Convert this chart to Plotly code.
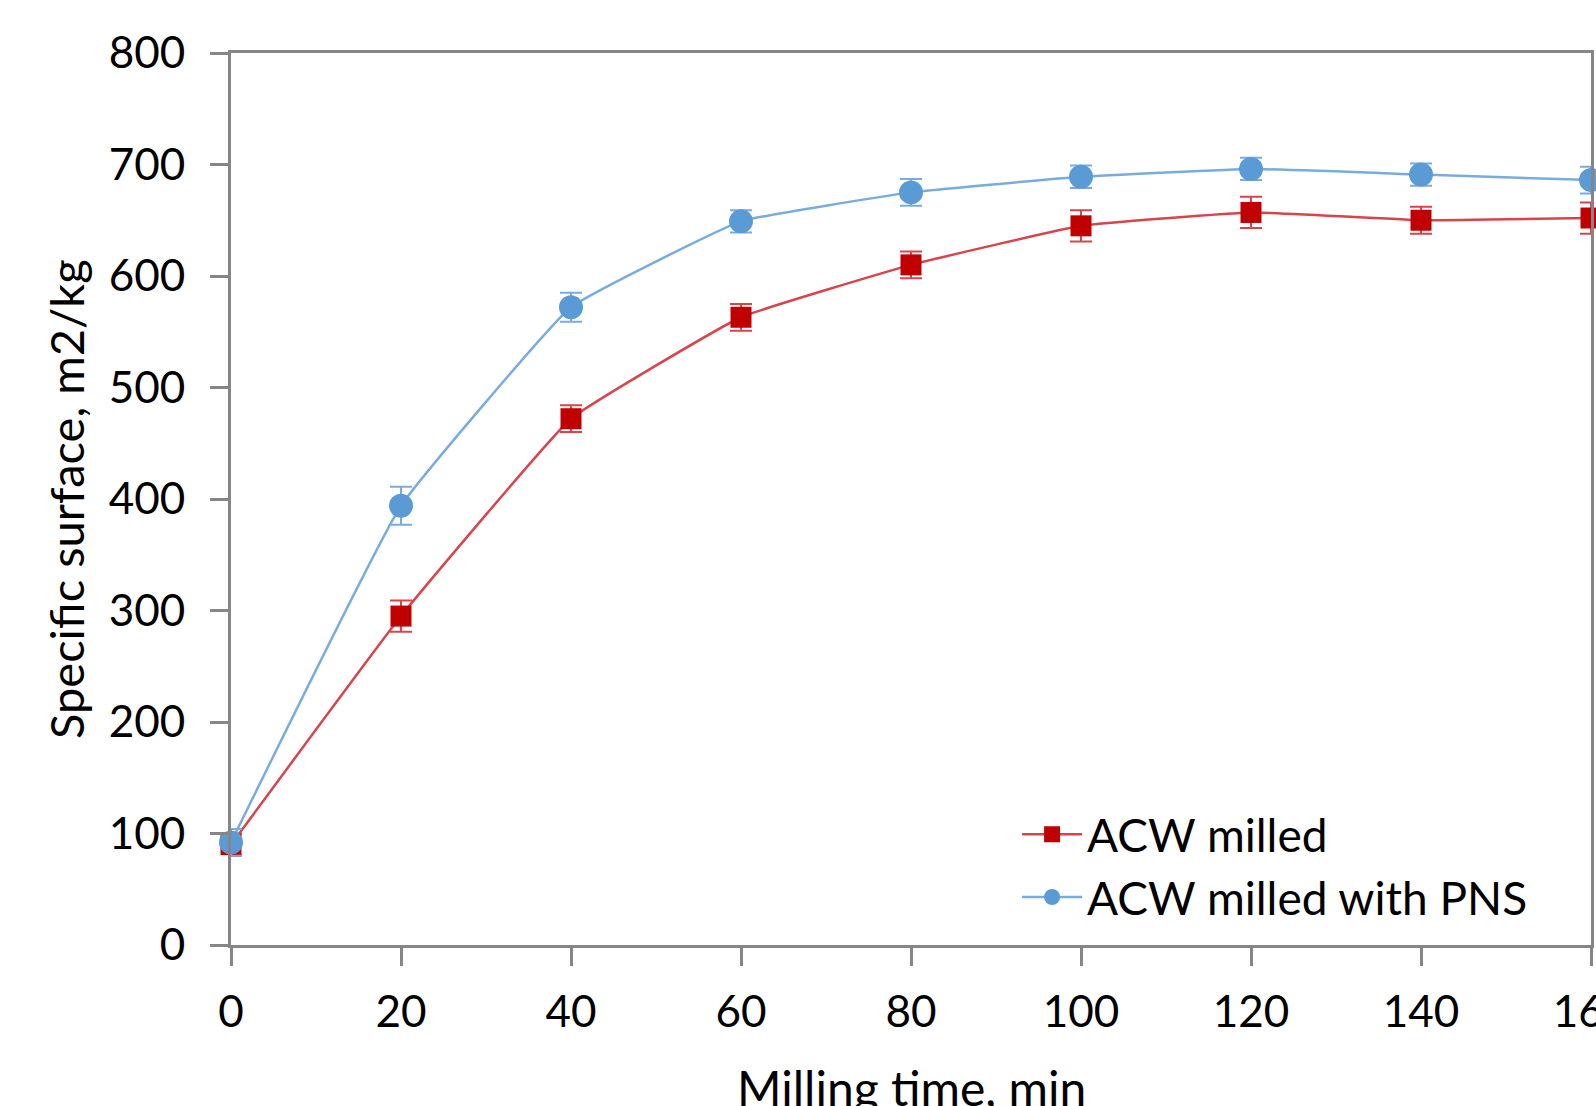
import plotly.graph_objects as go

milling_time = [0, 20, 40, 60, 80, 100, 120, 140, 160]
acw_milled = [90, 295, 472, 563, 610, 645, 657, 650, 652]
acw_milled_err = [10, 14, 12, 12, 12, 14, 14, 12, 14]
acw_pns = [92, 394, 572, 649, 675, 689, 696, 691, 686]
acw_pns_err = [12, 17, 13, 10, 12, 10, 10, 10, 12]

x_ticks = [0, 20, 40, 60, 80, 100, 120, 140, 160]
y_ticks = [0, 100, 200, 300, 400, 500, 600, 700, 800]

FONT = "Lato"
AX = "#868686"

fig = go.Figure()
fig.add_trace(go.Scatter(
    x=milling_time, y=acw_milled, name="ACW milled", mode="lines+markers",
    line=dict(color="#D8444C", width=2.5, shape="spline", smoothing=0.3),
    marker=dict(symbol="square", size=21, color="#C00000"),
    error_y=dict(type="data", array=acw_milled_err, visible=True,
                 color="#D8444C", thickness=2, width=11),
    cliponaxis=False,
))
fig.add_trace(go.Scatter(
    x=milling_time, y=acw_pns, name="ACW milled with PNS", mode="lines+markers",
    line=dict(color="#78ACDF", width=2.5, shape="spline", smoothing=0.3),
    marker=dict(symbol="circle", size=24, color="#5B9BD5"),
    error_y=dict(type="data", array=acw_pns_err, visible=True,
                 color="#78ACDF", thickness=2, width=11),
    cliponaxis=False,
))

fig.update_layout(
    width=1596, height=1106,
    margin=dict(l=231, r=5, t=53, b=161),
    paper_bgcolor="white", plot_bgcolor="white",
    font=dict(family=FONT, size=44, color="black"),
    showlegend=True,
    legend=dict(x=0.578, y=0.165, xanchor="left", yanchor="top",
                bgcolor="rgba(0,0,0,0)", font=dict(size=46, family=FONT),
                tracegroupgap=0, itemwidth=60),
    xaxis=dict(range=[0, 160], tickvals=x_ticks, showgrid=False, zeroline=False,
               showline=True, linecolor=AX, linewidth=3, mirror=True,
               ticks="outside", ticklen=18, tickwidth=3, tickcolor=AX,
               ticklabelstandoff=8, ticklabeloverflow="allow", automargin=False),
    yaxis=dict(range=[0, 800], tickvals=y_ticks, showgrid=False, zeroline=False,
               showline=True, linecolor=AX, linewidth=3, mirror=True,
               ticks="outside", ticklen=18, tickwidth=3, tickcolor=AX,
               ticklabelstandoff=16, ticklabeloverflow="allow", automargin=False),
    annotations=[
        dict(text="Milling time, min", xref="paper", yref="paper", x=0.5, y=0,
             yshift=-112, yanchor="top", xanchor="center", showarrow=False,
             font=dict(size=48, family=FONT)),
        dict(text="Specific surface, m2/kg", xref="paper", yref="paper", x=0, y=0.5,
             xshift=-165, xanchor="center", yanchor="middle", textangle=-90,
             showarrow=False, font=dict(size=47, family=FONT)),
    ],
)

fig.write_html("out.html")
